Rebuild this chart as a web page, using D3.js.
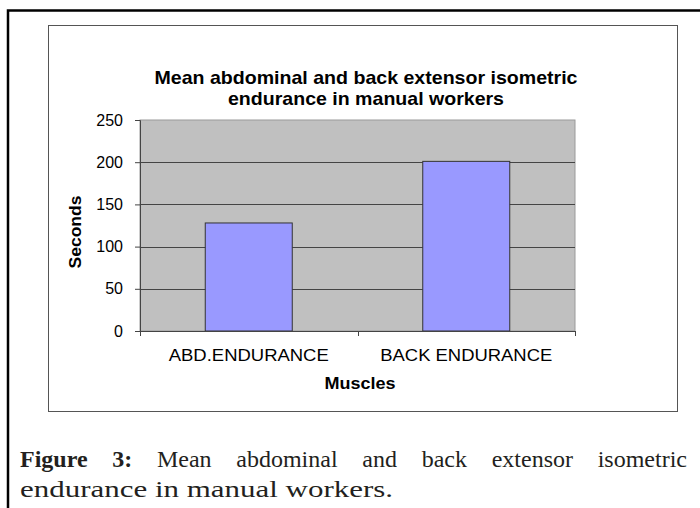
<!DOCTYPE html>
<html>
<head>
<meta charset="utf-8">
<script src="https://cdn.jsdelivr.net/npm/d3@7"></script>
<style>
  html, body { margin: 0; padding: 0; background: #fff; }
  svg { display: block; }
</style>
</head>
<body>
<svg id="chart" width="700" height="508"></svg>
<script>
// chart data
const categories = ["ABD.ENDURANCE", "BACK ENDURANCE"];
const values = [128, 201];
const yTicks = [0, 50, 100, 150, 200, 250];
const titleLines = ["Mean abdominal and back extensor isometric", "endurance in manual workers"];
const captionLine1 = ["Figure", "3:", "Mean", "abdominal", "and", "back", "extensor", "isometric"];
const captionLine2 = "endurance in manual workers.";

const svg = d3.select("#chart");
const sans = "Arial, 'Liberation Sans', sans-serif";
const serif = "'Goudy Old Style', 'Liberation Serif', 'Times New Roman', serif";

// outer page frame (runs off right / bottom edges)
svg.append("rect")
  .attr("x", 8).attr("y", 10.5)
  .attr("width", 760).attr("height", 560)
  .attr("fill", "none")
  .attr("stroke", "#000")
  .attr("stroke-width", 2.5);

// chart box
svg.append("rect")
  .attr("x", 48.5).attr("y", 25.5)
  .attr("width", 629).attr("height", 386)
  .attr("fill", "#fff")
  .attr("stroke", "#555")
  .attr("stroke-width", 1);

// plot geometry
const plot = { left: 140, right: 575, top: 120, bottom: 331 };

const x = d3.scaleBand()
  .domain(categories)
  .range([plot.left, plot.right])
  .paddingInner(0.6)
  .paddingOuter(0.3);

const y = d3.scaleLinear()
  .domain([0, 250])
  .range([plot.bottom, plot.top]);

// plot background
svg.append("rect")
  .attr("x", plot.left).attr("y", plot.top)
  .attr("width", plot.right - plot.left)
  .attr("height", plot.bottom - plot.top)
  .attr("fill", "#c0c0c0")
  .attr("stroke", "#9a9a9a")
  .attr("stroke-width", 1);

// gridlines
svg.append("g")
  .selectAll("line")
  .data(yTicks.filter(t => t > 0 && t < 250))
  .enter()
  .append("line")
  .attr("x1", plot.left).attr("x2", plot.right)
  .attr("y1", d => Math.round(y(d)) + 0.5)
  .attr("y2", d => Math.round(y(d)) + 0.5)
  .attr("stroke", "#444")
  .attr("stroke-width", 1);

// bars
svg.append("g")
  .selectAll("rect")
  .data(values)
  .enter()
  .append("rect")
  .attr("x", (d, i) => x(categories[i]))
  .attr("y", d => y(d))
  .attr("width", x.bandwidth())
  .attr("height", d => y(0) - y(d))
  .attr("fill", "#9999ff")
  .attr("stroke", "#333")
  .attr("stroke-width", 1);

// y axis
const yAxis = svg.append("g")
  .attr("transform", `translate(${plot.left},0)`)
  .call(d3.axisLeft(y).tickValues(yTicks).tickSize(5).tickPadding(12));
yAxis.select(".domain").attr("stroke", "#444");
yAxis.selectAll(".tick line").attr("stroke", "#444");
yAxis.selectAll("text")
  .attr("fill", "#000")
  .style("font-family", sans)
  .style("font-size", "16px");

// x axis: line, boundary ticks, labels
const xAxis = svg.append("g")
  .attr("transform", `translate(0,${plot.bottom})`)
  .call(d3.axisBottom(x).tickSize(0).tickPadding(0));
xAxis.select(".domain").attr("stroke", "#444");
const catWidths = [160, 172];
xAxis.selectAll("text")
  .attr("y", 30)
  .attr("dy", null)
  .attr("fill", "#000")
  .attr("textLength", (d, i) => catWidths[i])
  .attr("lengthAdjust", "spacingAndGlyphs")
  .style("font-family", sans)
  .style("font-size", "17px");

const bounds = categories.map(c => x(c) - x.step() * x.paddingInner() / 2).concat([plot.right]);
xAxis.selectAll(".bound")
  .data(bounds)
  .enter()
  .append("line")
  .attr("class", "bound")
  .attr("x1", d => Math.round(d) + 0.5).attr("x2", d => Math.round(d) + 0.5)
  .attr("y1", 0).attr("y2", 5)
  .attr("stroke", "#444");

// axis titles
svg.append("text")
  .attr("transform", "translate(81,232) rotate(-90)")
  .attr("text-anchor", "middle")
  .attr("textLength", 73)
  .attr("lengthAdjust", "spacingAndGlyphs")
  .style("font-family", sans)
  .style("font-size", "16px")
  .style("font-weight", "bold")
  .text("Seconds");

svg.append("text")
  .attr("x", 360).attr("y", 389)
  .attr("text-anchor", "middle")
  .attr("textLength", 71)
  .attr("lengthAdjust", "spacingAndGlyphs")
  .style("font-family", sans)
  .style("font-size", "16px")
  .style("font-weight", "bold")
  .text("Muscles");

// chart title
const titleWidths = [423, 276];
svg.append("g")
  .selectAll("text")
  .data(titleLines)
  .enter()
  .append("text")
  .attr("x", 366)
  .attr("y", (d, i) => 84 + i * 21)
  .attr("text-anchor", "middle")
  .attr("textLength", (d, i) => titleWidths[i])
  .attr("lengthAdjust", "spacingAndGlyphs")
  .style("font-family", sans)
  .style("font-size", "19px")
  .style("font-weight", "bold")
  .text(d => d);

// caption, first line justified between 20 and 687
const cap = svg.append("g").attr("fill", "#231f20");
const capLeft = 20, capRight = 687;
const words = cap.selectAll(".w1")
  .data(captionLine1)
  .enter()
  .append("text")
  .attr("class", "w1")
  .attr("y", 467)
  .style("font-family", serif)
  .style("font-size", "24px")
  .style("font-weight", (d, i) => i < 2 ? "bold" : "normal")
  .text(d => d);
const widths = words.nodes().map(n => n.getComputedTextLength());
const gap = (capRight - capLeft - d3.sum(widths)) / (widths.length - 1);
let cx = capLeft;
words.attr("x", (d, i) => {
  const pos = cx;
  cx += widths[i] + gap;
  return pos;
});

cap.append("text")
  .attr("x", capLeft).attr("y", 497)
  .attr("textLength", 373)
  .attr("lengthAdjust", "spacingAndGlyphs")
  .style("font-family", serif)
  .style("font-size", "24px")
  .text(captionLine2);
</script>
</body>
</html>
